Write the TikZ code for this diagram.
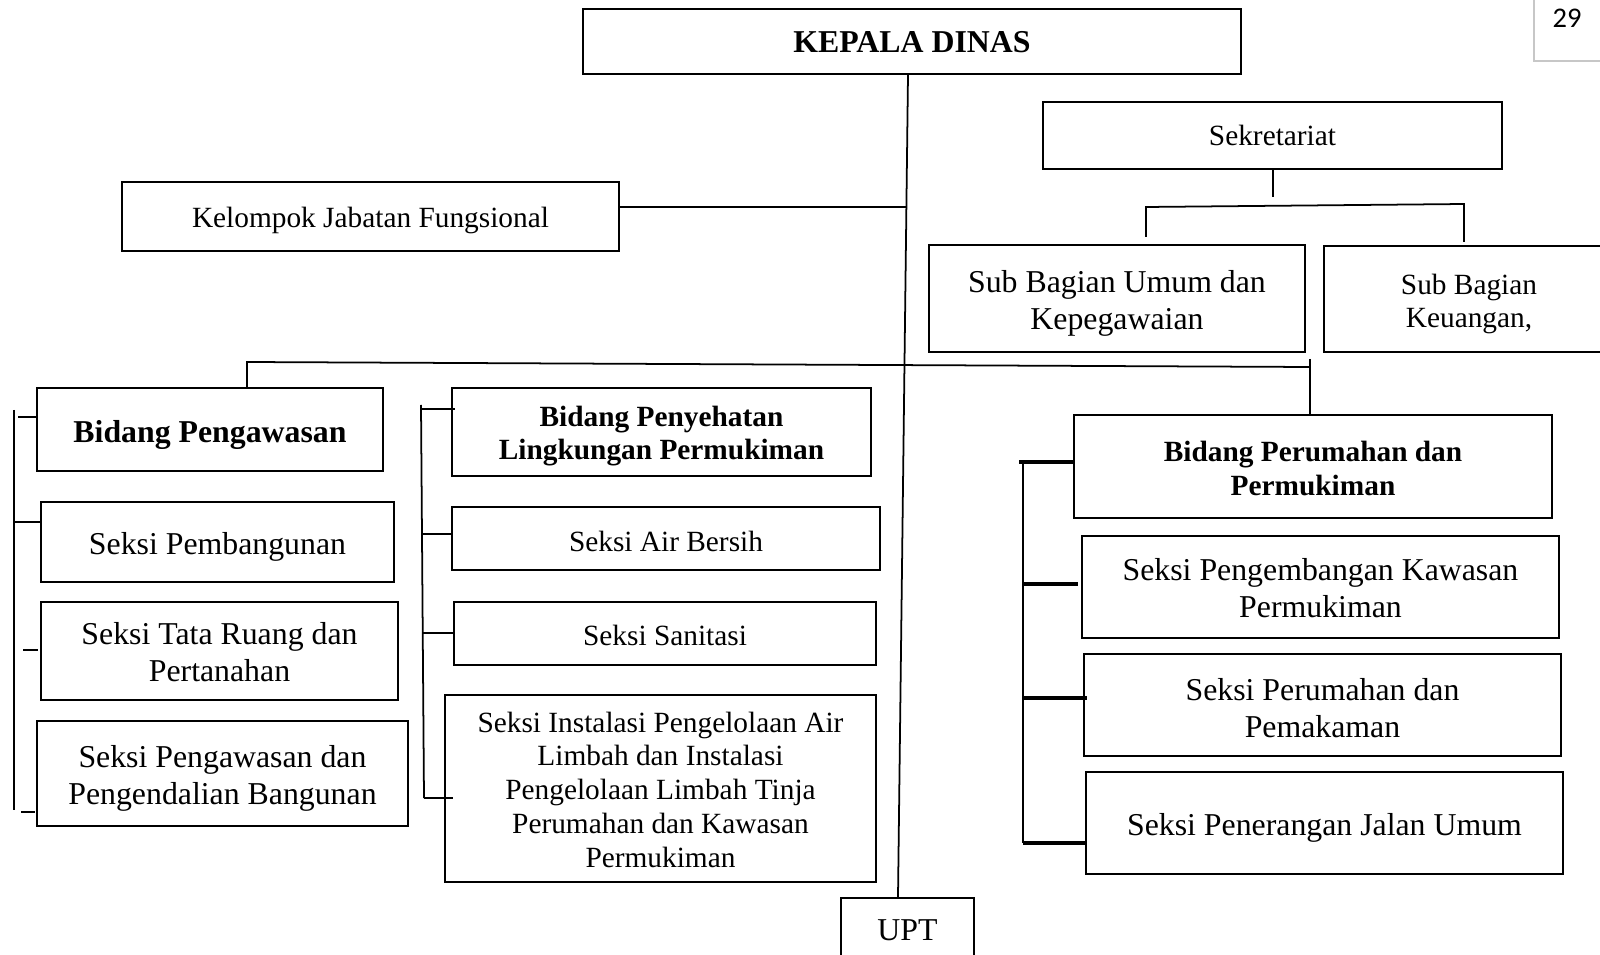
\documentclass[tikz,border=0pt]{standalone}
\usepackage{fontspec}
\setmainfont{Liberation Serif}
\newfontfamily\pgnumfont{Carlito}
\usetikzlibrary{calc}
\tikzset{
  bx/.style 2 args={draw, line width=0.55pt, inner sep=0pt,
    minimum width=#1*0.1mm, minimum height=#2*0.1mm},
  txt/.style={inner sep=0pt, align=center},
  big/.style={txt, font=\fontsize{9.05}{10.4}\selectfont},
  bigb/.style={txt, font=\fontsize{9.05}{10.4}\selectfont\bfseries},
  small/.style={txt, font=\fontsize{8.35}{9.6}\selectfont},
  smallb/.style={txt, font=\fontsize{8.35}{9.6}\selectfont\bfseries},
  ln/.style={line width=0.5pt},
  thk/.style={line width=1.05pt},
}
% #1 name, #2 width, #3 height, #4 centre, #5 text style, #6 text shift, #7 text
\newcommand\obox[7]{%
  \node[bx={#2}{#3}] (#1) at (#4) {};
  \node[#5] (#1t) at ($(#1.center)+(0,#6)$) {#7};%
}
\begin{document}
\begin{tikzpicture}[x=0.1mm, y=-0.1mm]
\useasboundingbox (0,0) rectangle (1600,955);
\clip (0,0) rectangle (1600,955);
% page number corner
\node[font=\pgnumfont\fontsize{8.1}{9}\selectfont, inner sep=0pt] (pg) at (1567,18) {29};
\coordinate (pgA) at (1534,0);
\coordinate (pgB) at (1534,61);
\coordinate (pgC) at (1600,61);
\draw[black!22, line width=0.6pt] (pgA) -- (pgB) -- (pgC);
% boxes
\obox{kepala}{658}{65}{912,41.5}{bigb}{1}{KEPALA DINAS}
\obox{sekr}{459}{67}{1272.5,135.5}{small}{0}{Sekretariat}
\obox{kelompok}{497}{69}{370.5,216.5}{small}{4}{Kelompok Jabatan Fungsional}
\obox{subumum}{376}{107}{1117,298.5}{big}{5}{Sub Bagian Umum dan\\Kepegawaian}
\obox{subkeu}{290}{106}{1469,299}{small}{5}{Sub Bagian\\Keuangan,}
\obox{bpeng}{346}{83}{210,429.5}{bigb}{5}{Bidang Pengawasan}
\obox{spemb}{353}{80}{217.5,542}{big}{5}{Seksi Pembangunan}
\obox{stata}{357}{98}{219.5,651}{big}{1}{Seksi Tata Ruang dan\\Pertanahan}
\obox{spengaw}{371}{105}{222.5,773.5}{big}{5}{Seksi Pengawasan dan\\Pengendalian Bangunan}
\obox{bpenyeh}{419}{88}{661.5,432}{smallb}{4}{Bidang Penyehatan\\Lingkungan Permukiman}
\obox{sair}{428}{63}{666,538.5}{small}{3}{Seksi Air Bersih}
\obox{ssan}{422}{63}{665,633.5}{small}{2}{Seksi Sanitasi}
\obox{sinst}{431}{187}{660.5,788.5}{small}{1}{Seksi Instalasi Pengelolaan Air\\Limbah dan Instalasi\\Pengelolaan Limbah Tinja\\Perumahan dan Kawasan\\Permukiman}
\obox{bperum}{478}{103}{1313,466.5}{smallb}{2}{Bidang Perumahan dan\\Permukiman}
\obox{spengem}{477}{102}{1320.5,587}{big}{1}{Seksi Pengembangan Kawasan\\Permukiman}
\obox{sperum}{477}{102}{1322.5,705}{big}{3}{Seksi Perumahan dan\\Pemakaman}
\obox{spener}{477}{102}{1324.5,823}{big}{5}{Seksi Penerangan Jalan Umum}
\obox{upt}{133}{64}{907.5,930}{big}{0}{UPT}
% main trunk
\draw[ln] ($(kepala.south)+(-4,0)$) -- ($(upt.north)+(-9.5,0)$);
% kelompok
\coordinate (jk) at (906,207);
\draw[ln] (kelompok.east |- jk) -- (jk);
% main bar
\coordinate (bl) at (247,362);
\coordinate (br) at (1310,367);
\coordinate (brt) at (1310,359);
\draw[ln] (bl |- bpeng.north) -- (bl) -- (br);
\draw[ln] (brt) -- (brt |- bperum.north);
% sekretariat
\coordinate (sv) at (1273,197);
\draw[ln] (sekr.south -| sv) -- (sv);
\coordinate (sl) at (1146,207);
\coordinate (sr) at (1464,204);
\coordinate (slb) at (1146,237);
\coordinate (srb) at (1464,242);
\draw[ln] (slb) -- (sl) -- (sr) -- (srb);
% left bracket
\coordinate (lt) at (14,410);
\coordinate (lb) at (14,810);
\draw[ln] (lt) -- (lb);
\coordinate (l1) at (18,417);
\coordinate (l2) at (14,522);
\coordinate (l3) at (23,650);
\coordinate (l4) at (21,812);
\draw[ln] (l1) -- (bpeng.west |- l1);
\draw[ln] (l2) -- ($(spemb.west |- l2)+(2,0)$);
\draw[ln] (l3) -- ($(stata.west |- l3)+(-2,0)$);
\draw[ln] (l4) -- ($(spengaw.west |- l4)+(-1,0)$);
% middle bracket
\coordinate (mt) at (421,405);
\coordinate (mb) at (424,798);
\draw[ln] (mt) -- (mb);
\coordinate (m1) at (421,409);
\coordinate (m2) at (421,534);
\coordinate (m3) at (423,633);
\draw[ln] (m1) -- ($(bpenyeh.west |- m1)+(4,0)$);
\draw[ln] (m2) -- ($(sair.west |- m2)+(2,0)$);
\draw[ln] (m3) -- ($(ssan.west |- m3)+(2,0)$);
\draw[ln] (mb) -- ($(sinst.west |- mb)+(9,0)$);
% right bracket
\coordinate (rt) at (1023,462);
\coordinate (rb) at (1023,843);
\draw[ln] (rt) -- (rb);
\coordinate (r1) at (1019,462);
\coordinate (r2) at (1023,584);
\coordinate (r3) at (1023,698);
\draw[thk] (r1) -- (bperum.west |- r1);
\draw[thk] (r2) -- ($(spengem.west |- r2)+(-3,0)$);
\draw[thk] (r3) -- ($(sperum.west |- r3)+(4,0)$);
\draw[thk] (rb) -- (spener.west |- rb);
\end{tikzpicture}
\end{document}
